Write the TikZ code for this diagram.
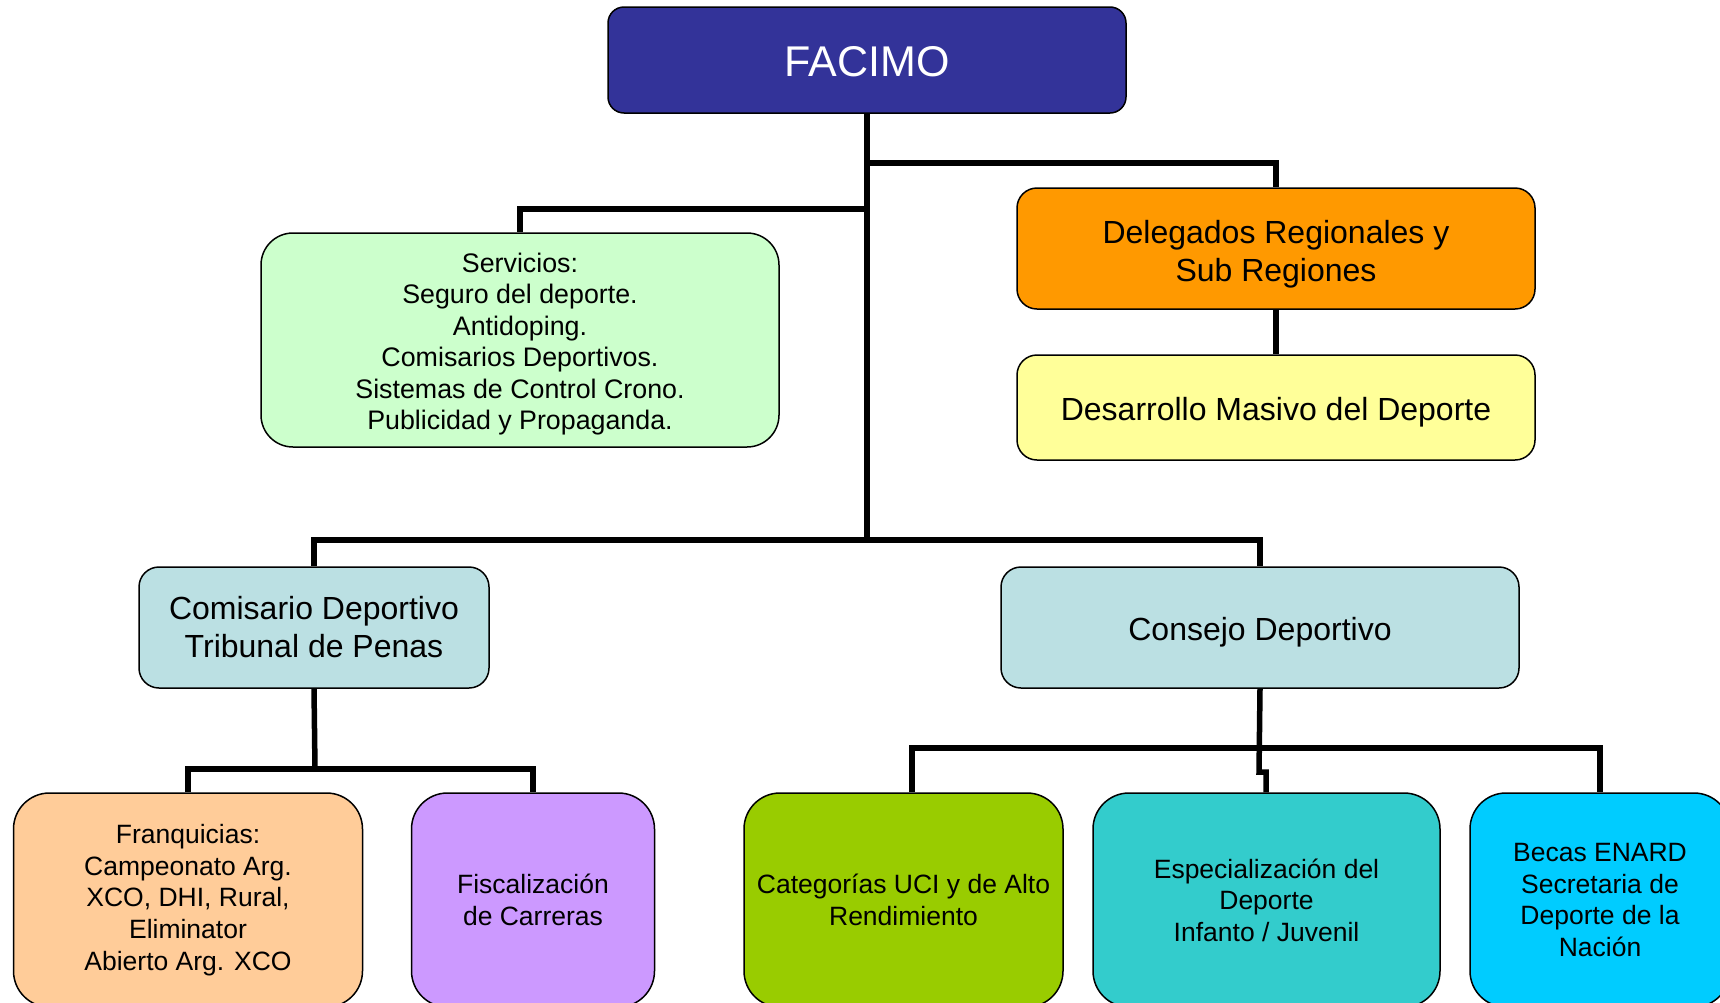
\documentclass[tikz,border=0pt]{standalone}
\usepackage{fontspec}
\setmainfont{Liberation Sans}
\definecolor{cFac}{HTML}{333399}
\definecolor{cServ}{HTML}{CCFFCC}
\definecolor{cDeleg}{HTML}{FF9900}
\definecolor{cDesa}{HTML}{FFFF99}
\definecolor{cCom}{HTML}{BBE0E3}
\definecolor{cFranq}{HTML}{FFCC99}
\definecolor{cFisc}{HTML}{CC99FF}
\definecolor{cCat}{HTML}{99CC00}
\definecolor{cEsp}{HTML}{33CCCC}
\definecolor{cBecas}{HTML}{00CCFF}
\newcommand\mystrut[1]{\rule{0pt}{#1pt}}
\begin{document}
\begin{tikzpicture}[x=1pt,y=-1pt,
  box/.style={draw=black, line width=1.5pt, inner sep=0pt, align=center, text=black},
  conn/.style={draw=black, line width=5.5pt, line join=miter},
  fbig/.style={font={\fontsize{43}{50}\selectfont}},
  fmid/.style={font={\fontsize{32}{38}\selectfont}},
  fserv/.style={font={\fontsize{26.8}{31.4}\selectfont}},
  fsmall/.style={font={\fontsize{26.5}{31.6}\selectfont}}]
\fill[white] (0,0) rectangle (1720,1002);
\useasboundingbox (0,0) rectangle (1720,1002);

\node[box, fbig, rounded corners=16, fill=cFac, text=white, minimum width=518, minimum height=106] (facimo) at (867,60) {\mystrut{34}FACIMO};
\node[box, fserv, rounded corners=32, fill=cServ, minimum width=518, minimum height=214] (serv) at (520,340)
  {\mystrut{27.5}Servicios:\\Seguro del deporte.\\Antidoping.\\Comisarios Deportivos.\\Sistemas de Control Crono.\\Publicidad y Propaganda.};
\node[box, fmid, rounded corners=20, fill=cDeleg, minimum width=518, minimum height=121] (deleg) at (1276,248.5)
  {\mystrut{34}Delegados Regionales y\\Sub Regiones};
\node[box, fmid, rounded corners=20, fill=cDesa, minimum width=518, minimum height=105] (desa) at (1276,407.5)
  {\mystrut{32}Desarrollo Masivo del Deporte};
\node[box, fmid, rounded corners=20, fill=cCom, minimum width=350, minimum height=121] (comi) at (314,627.5)
  {Comisario Deportivo\\Tribunal de Penas};
\node[box, fmid, rounded corners=20, fill=cCom, minimum width=518, minimum height=121] (cons) at (1260,627.5)
  {\mystrut{32.5}Consejo Deportivo};
\node[box, fsmall, rounded corners=36, fill=cFranq, minimum width=349, minimum height=214] (franq) at (188,900)
  {Franquicias:\\Campeonato Arg.\\XCO, DHI, Rural,\\Eliminator\\Abierto Arg. XCO};
\node[box, fsmall, rounded corners=36, fill=cFisc, minimum width=243, minimum height=214] (fisc) at (533,900)
  {Fiscalización\\de Carreras};
\node[box, fsmall, rounded corners=36, fill=cCat, minimum width=319, minimum height=214] (cat) at (903.5,900)
  {Categorías UCI y de Alto\\Rendimiento};
\node[box, fsmall, rounded corners=36, fill=cEsp, minimum width=347, minimum height=214] (esp) at (1266.5,900)
  {Especialización del\\Deporte\\Infanto / Juvenil};
\node[box, fsmall, rounded corners=36, fill=cBecas, minimum width=260, minimum height=214] (becas) at (1600,900)
  {Becas ENARD\\Secretaria de\\Deporte de la\\Nación};

% bus coordinates
\coordinate (b1) at (867,163);
\coordinate (b2) at (867,209);
\coordinate (b3) at (867,540);
\coordinate (b4) at (315,769);
\coordinate (c1) at (912,748);
\coordinate (c2) at (1600,748);
\coordinate (j1) at (1259,772);
\coordinate (j2) at (1266,772);

\draw[conn] (facimo.south) -- (b3);
\draw[conn] (b1) -| (deleg.north);
\draw[conn] (b2) -| (serv.north);
\draw[conn] (deleg.south) -- (desa.north);
\draw[conn] (comi.north) |- (b3) -| (cons.north);
\draw[conn] (comi.south) -- (b4);
\draw[conn] (franq.north) |- (b4) -| (fisc.north);
\draw[conn] (cat.north -| c1) -- (c1) -- (c2) -- (becas.north);
\draw[conn] (cons.south) -- (j1) -- (j2) -- (esp.north -| j2);
\end{tikzpicture}
\end{document}
